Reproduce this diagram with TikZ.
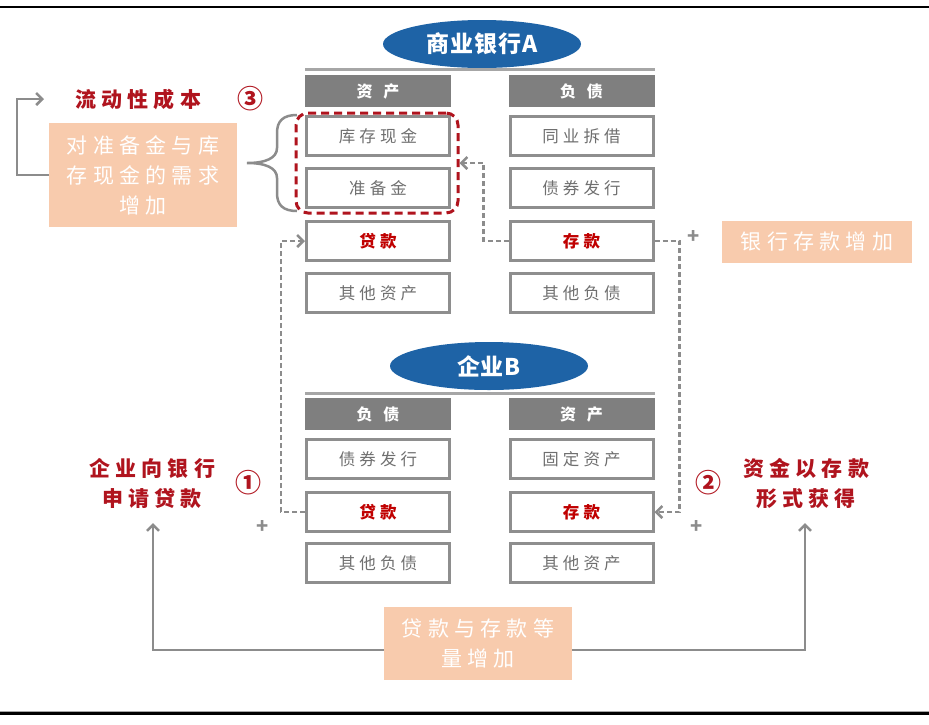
\documentclass[tikz,border=0pt]{standalone}
\usepackage{fontspec}
\usetikzlibrary{arrows.meta,shapes.geometric}
\newfontfamily\cjk{Noto Sans CJK SC}
\newfontfamily\cjkA[LetterSpace=25]{Noto Sans CJK SC}
\newfontfamily\cjkE[LetterSpace=4]{Noto Sans CJK SC}
\definecolor{ellblue}{HTML}{1E63A6}
\definecolor{hdrgray}{HTML}{7F7F7F}
\definecolor{boxgray}{HTML}{8E8E8E}
\definecolor{txtgray}{HTML}{6F6F6F}
\definecolor{keyred}{HTML}{C00000}
\definecolor{lblred}{HTML}{B0141E}
\definecolor{peach}{HTML}{F8CBAD}
\definecolor{linegray}{HTML}{8C8C8C}
\definecolor{sepgray}{HTML}{A6A6A6}
\begin{document}
\begin{tikzpicture}[x=1pt,y=-1pt,
  ell/.style={ellipse, fill=ellblue, minimum width=198pt, minimum height=48pt, inner sep=0pt,
    text=white, font=\cjkE\bfseries\fontsize{23}{25}\selectfont},
  sepline/.style={draw=sepgray, line width=3pt},
  hdr/.style={fill=hdrgray, minimum width=146pt, minimum height=32pt, inner sep=0pt,
    text=white, font=\cjk\bfseries\fontsize{16}{18}\selectfont},
  item/.style={draw=boxgray, line width=3pt, fill=white, minimum width=143pt,
    minimum height=39pt, inner sep=0pt, text=txtgray, font=\cjkA\fontsize{16.5}{18}\selectfont},
  keyitem/.style={item, text=keyred, font=\cjkA\bfseries\fontsize{16.5}{18}\selectfont},
  resbox/.style={draw=lblred, line width=3pt, dash pattern=on 8pt off 5pt, rounded corners=12pt,
    minimum width=162pt, minimum height=100pt, inner sep=0pt},
  tip/.style={Straight Barb[length=6pt,width=12pt,line width=2.5pt]},
  dconn/.style={draw=linegray, line width=2.5pt, dash pattern=on 5pt off 3pt, -{Straight Barb[length=6pt,width=12pt,line width=2.5pt]}},
  sconn/.style={draw=linegray, line width=2.5pt},
  peachbox/.style={fill=peach, inner sep=0pt, text=white, align=center,
    font=\cjkA\fontsize{21}{30}\selectfont},
  redlbl/.style={text=lblred, align=center, inner sep=0pt, font=\cjkA\bfseries\fontsize{21}{30}\selectfont},
  numlbl/.style={text=lblred, inner sep=0pt, font=\cjk\bfseries\fontsize{26}{28}\selectfont},
  plus/.style={text=linegray, inner sep=0pt, font=\cjk\bfseries\fontsize{20}{20}\selectfont}
]
\useasboundingbox (0,0) rectangle (929,724);
\fill[white] (0,0) rectangle (929,724);
\draw[black, line width=1.5pt] (0,7) -- (929,7);
\draw[sepgray, line width=1pt] (0,711) -- (929,711);
\draw[black, line width=2.5pt] (0,713.5) -- (929,713.5);

% ---- Bank A
\node[ell] (bankA) at (482,44) {商业银行A};
\draw[sepline] (305,69) -- (655,69);
\node[hdr] (aah) at (378,91) {资\hspace{11pt}产};
\node[hdr] (alh) at (581.5,91) {负\hspace{11pt}债};
\node[item] (acash) at (378,136) {库存现金};
\node[item] (ares) at (378,188) {准备金};
\node[keyitem] (aloan) at (378,241) {贷款};
\node[item] (aoth) at (378,293) {其他资产};
\node[item] (aib) at (581.5,136) {同业拆借};
\node[item] (abond) at (581.5,188) {债券发行};
\node[keyitem] (adep) at (581.5,241) {存款};
\node[item] (aothl) at (581.5,293) {其他负债};
\node[resbox] (res) at (377,163) {};

% ---- Enterprise B
\node[ell] (entB) at (489,366) {企业B};
\draw[sepline] (305,393) -- (655,393);
\node[hdr] (blh) at (378,414) {负\hspace{11pt}债};
\node[hdr] (bah) at (581.5,414) {资\hspace{11pt}产};
\node[item] (bbond) at (378,459) {债券发行};
\node[keyitem] (bloan) at (378,512) {贷款};
\node[item] (bothl) at (378,563) {其他负债};
\node[item] (bfix) at (581.5,459) {固定资产};
\node[keyitem] (bdep) at (581.5,512) {存款};
\node[item] (both) at (581.5,563) {其他资产};

% ---- dashed connectors
\draw[dconn] (adep.west) -- ++(-25,0) |- (res.east);
\draw[dconn] (adep.east) -- ++(25,0) |- (bdep.east);
\draw[dconn] (bloan.west) -- ++(-24,0) |- (aloan.west);
\node[plus] (p1) at (694,237) {+};
\node[plus] (p2) at (697,527) {+};
\node[plus] (p3) at (263,527) {+};

% ---- left top: liquidity cost
\node[redlbl] (liq) at (138,99) {流动性成本};
\node[numlbl] (n3) at (250,99) {③};
\node[peachbox, minimum width=188pt, minimum height=104pt] (need) at (143,175)
  {对准备金与库\\存现金的需求\\增加};
\coordinate (liqtip) at (44,99);
\draw[sconn, -{Straight Barb[length=6pt,width=12pt,line width=2.5pt]}] (need.west) -- ++(-32,0) |- (liqtip);
\draw[linegray, line width=2.5pt] (297,115) .. controls (283,115) and (277,121) .. (277,133)
  -- (277,148) .. controls (277,158) and (266,163) .. (247,163)
  .. controls (266,163) and (277,168) .. (277,178)
  -- (277,193) .. controls (277,205) and (283,211) .. (297,211);

% ---- right top
\node[peachbox, minimum width=190pt, minimum height=42pt] (bdinc) at (817,242) {银行存款增加};

% ---- lower labels
\node[redlbl] (loanreq) at (152,483) {企业向银行\\申请贷款};
\node[numlbl] (n1) at (248,483) {①};
\node[numlbl] (n2) at (708,483) {②};
\node[redlbl] (depgot) at (806,483) {资金以存款\\形式获得};

% ---- bottom frame
\coordinate (tipL) at (153,523);
\coordinate (fl) at (153,650);
\coordinate (fr) at (805,650);
\coordinate (tipR) at (805,523);
\draw[sconn, {Straight Barb[length=6pt,width=12pt,line width=2.5pt]}-{Straight Barb[length=6pt,width=12pt,line width=2.5pt]}]
  (tipL) -- (fl) -- (fr) -- (tipR);
\node[peachbox, minimum width=188pt, minimum height=73pt] (eqinc) at (478,643.5) {贷款与存款等\\量增加};
\end{tikzpicture}
\end{document}
